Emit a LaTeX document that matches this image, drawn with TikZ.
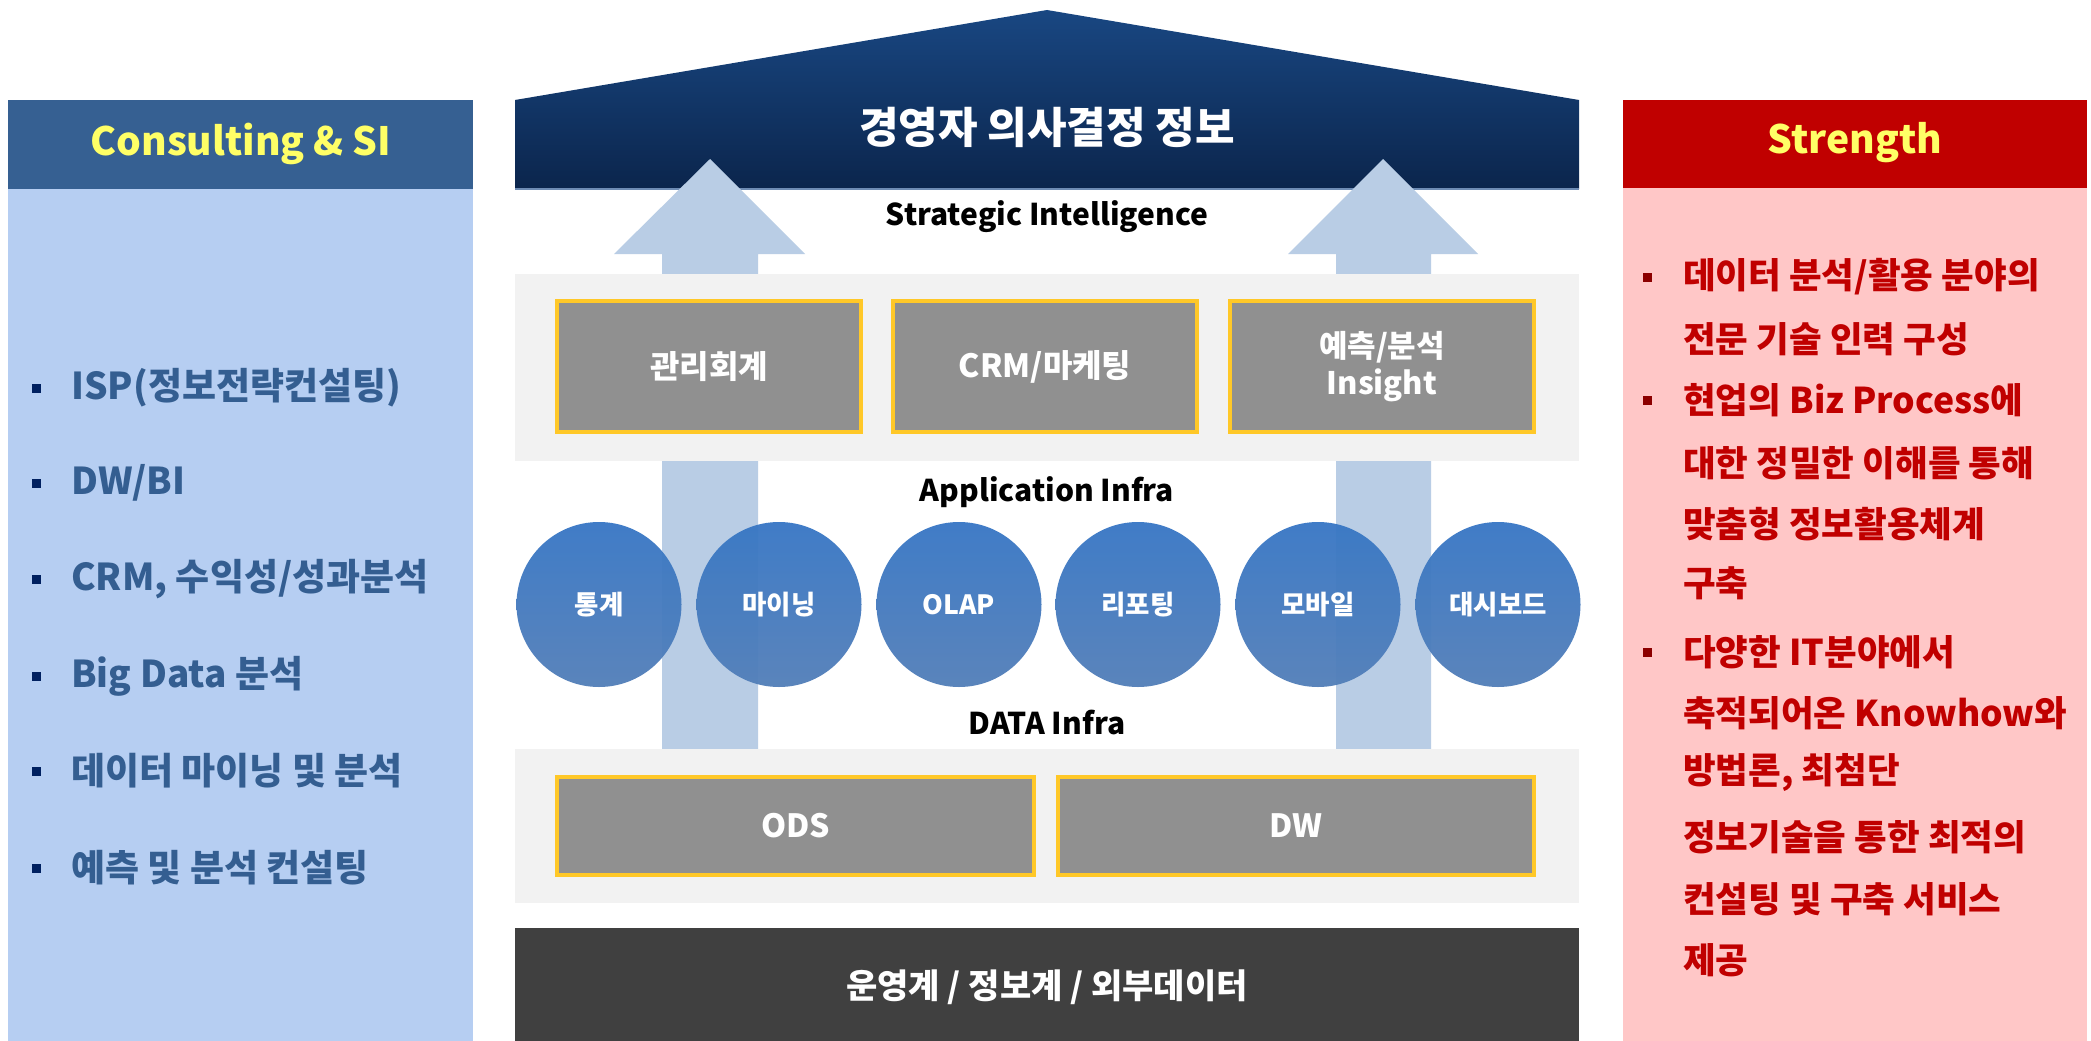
\documentclass[tikz,border=0pt]{standalone}
\usepackage{fontspec}
\setmainfont{Noto Sans CJK KR}
\definecolor{hdrblue}{RGB}{54,96,146}
\definecolor{panelblue}{RGB}{182,206,242}
\definecolor{lefttext}{RGB}{52,94,145}
\definecolor{bulletnavy}{RGB}{0,32,96}
\definecolor{roofA}{RGB}{25,71,130}
\definecolor{roofB}{RGB}{11,37,76}
\definecolor{roofline}{RGB}{110,140,180}
\definecolor{arrowblue}{RGB}{185,205,229}
\definecolor{bandgray}{RGB}{242,242,242}
\definecolor{boxgray}{RGB}{144,144,144}
\definecolor{boxyellow}{RGB}{255,200,40}
\definecolor{circA}{RGB}{54,118,196}
\definecolor{circB}{RGB}{82,126,184}
\definecolor{darkbar}{RGB}{64,64,64}
\definecolor{redhdr}{RGB}{192,0,0}
\definecolor{pinkbody}{RGB}{255,199,199}
\definecolor{redtext}{RGB}{192,0,0}
\definecolor{bulletred}{RGB}{140,0,0}
\definecolor{hdryellow}{RGB}{255,255,102}
\tikzset{
  hdrtext/.style={text=hdryellow,font=\fontsize{39}{44}\selectfont\bfseries,inner sep=0pt},
  lefttxt/.style={anchor=west,text=lefttext,font=\fontsize{37}{42}\selectfont\bfseries,inner sep=0pt},
  righttxt/.style={anchor=west,text=redtext,font=\fontsize{35.5}{40}\selectfont\bfseries,inner sep=0pt},
  lbullet/.style={fill=bulletnavy,minimum size=9pt,inner sep=0pt},
  rbullet/.style={fill=bulletred,minimum size=9pt,inner sep=0pt},
  layertxt/.style={text=black,font=\fontsize{30}{34}\selectfont\bfseries,inner sep=0pt},
  appbox/.style={draw=boxyellow,line width=3.5pt,fill=boxgray,text=white,
     font=\fontsize{32}{39}\selectfont\bfseries,align=center,inner sep=0pt},
  tool/.style={circle,minimum size=165pt,inner sep=0pt,top color=circA,bottom color=circB,
     fill opacity=0.95,text opacity=1,text=white,font=\fontsize{26.5}{30}\selectfont\bfseries},
  upshape/.style={fill=arrowblue}
}
\begin{document}
\begin{tikzpicture}[x=1pt,y=-1pt]
\useasboundingbox (0,0) rectangle (2091,1041);
\fill[white] (0,0) rectangle (2091,1041);
% left panel
\fill[panelblue] (8,189) rectangle (473,1041);
\fill[hdrblue] (8,100) rectangle (473,189);
\node[hdrtext] (lhdr) at (241,144) {Consulting \& SI};
% right panel
\fill[pinkbody] (1623,188) rectangle (2087,1041);
\fill[redhdr] (1623,100) rectangle (2087,188);
\node[hdrtext] (rhdr) at (1855,143) {Strength};
% roof
\shade[top color=roofA,bottom color=roofB] (515,189) -- (515,100) -- (1047,10) -- (1579,100) -- (1579,189) -- cycle;
\draw[roofline,line width=1.5pt] (515,189) -- (1579,189);
\node[text=white,font=\fontsize{43}{48}\selectfont\bfseries,inner sep=0pt] (title) at (1047,127) {경영자 의사결정 정보};
% arrows
\fill[upshape] (662,749) -- (662,254) -- (614,254) -- (710,159) -- (805,254) -- (758,254) -- (758,749) -- cycle;
\fill[upshape] (1336,749) -- (1336,254) -- (1288,254) -- (1383,159) -- (1478,254) -- (1431,254) -- (1431,749) -- cycle;
% bands
\fill[bandgray] (515,274) rectangle (1579,461);
\fill[bandgray] (515,749) rectangle (1579,903);
\node[layertxt] (si) at (1047,217) {Strategic Intelligence};
\node[layertxt] (ai) at (1047,492) {Application Infra};
\node[layertxt] (di) at (1047,723) {DATA Infra};
% application boxes
\node[appbox,minimum width=304pt,minimum height=131pt] (acc) at (709,366.5) {관리회계};
\node[appbox,minimum width=304pt,minimum height=131pt] (crm) at (1045,366.5) {CRM/마케팅};
\node[appbox,minimum width=304pt,minimum height=131pt,font=\fontsize{31}{37}\selectfont\bfseries] (pred) at (1382,366.5) {예측/분석\\Insight};
% tools
\node[tool] (t1) at (599,604.5) {통계};
\node[tool] (t2) at (779,604.5) {마이닝};
\node[tool] (t3) at (959,604.5) {OLAP};
\node[tool] (t4) at (1138,604.5) {리포팅};
\node[tool] (t5) at (1318,604.5) {모바일};
\node[tool] (t6) at (1498,604.5) {대시보드};
% data boxes
\node[appbox,minimum width=477pt,minimum height=98pt] (ods) at (795.5,826) {ODS};
\node[appbox,minimum width=476pt,minimum height=98pt] (dw) at (1296,826) {DW};
% bottom bar
\fill[darkbar] (515,928) rectangle (1579,1041);
\node[text=white,font=\fontsize{34}{38}\selectfont\bfseries,inner sep=0pt] (src) at (1047,987) {운영계 / 정보계 / 외부데이터};
% left bullets
\foreach \y/\t [count=\i] in {388/{ISP(정보전략컨설팅)},483/{DW/BI},579/{CRM, 수익성/성과분석},676/{Big Data 분석},771/{데이터 마이닝 및 분석},868/{예측 및 분석 컨설팅}}{
  \node[lbullet] (lb\i) at (36.5,\y) {};
  \node[lefttxt] (lt\i) at (71,\y) {\t};
}
% right bullets
\node[rbullet] (rb1) at (1647.5,277) {};
\node[rbullet] (rb2) at (1647.5,400) {};
\node[rbullet] (rb3) at (1647.5,652) {};
\foreach \y/\t [count=\i] in {277/{데이터 분석/활용 분야의},339/{전문 기술 인력 구성},400/{현업의 Biz Process에},463/{대한 정밀한 이해를 통해},524/{맞춤형 정보활용체계},583/{구축},652/{다양한 IT분야에서},713/{축적되어온 Knowhow와},773/{방법론, 최첨단},837/{정보기술을 통한 최적의},899/{컨설팅 및 구축 서비스},960/{제공}}{
  \node[righttxt] (rt\i) at (1683,\y) {\t};
}
\end{tikzpicture}
\end{document}
